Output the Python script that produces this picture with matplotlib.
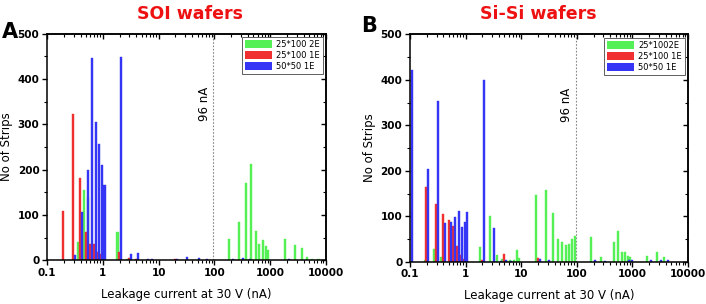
import numpy as np
import matplotlib
matplotlib.use("Agg")
import matplotlib.pyplot as plt
from matplotlib.patches import Patch
from matplotlib.ticker import LogLocator, FixedLocator, NullFormatter

# ---------------- data ----------------
soi_green_x = [0.4, 0.5, 0.6, 2, 3, 200, 300, 400, 500, 600, 700, 800, 900, 1000, 2000, 3000, 4000, 5000, 6000, 8000]
soi_green_n = [40, 155, 140, 62, 4, 47, 84, 170, 213, 65, 36, 45, 32, 23, 47, 33, 28, 7, 3, 3]
soi_red_x = [0.2, 0.3, 0.4, 0.5, 0.6, 0.7, 0.8, 0.9, 1, 2, 3, 4, 20]
soi_red_n = [108, 322, 181, 63, 37, 37, 19, 14, 4, 18, 5, 3, 3]
soi_blue_x = [0.3, 0.4, 0.5, 0.6, 0.7, 0.8, 0.9, 1, 2, 3, 4, 6, 7, 20, 30, 50, 70, 200, 300, 400, 2000]
soi_blue_n = [12, 106, 199, 446, 306, 256, 211, 166, 449, 13, 16, 4, 3, 4, 8, 5, 2, 4, 5, 3, 3]

sisi_green_x = [0.2, 0.3, 0.4, 2, 3, 4, 5, 6, 7, 8, 9, 10, 20, 30, 40, 50, 60, 70, 80, 90, 100,
                200, 300, 500, 600, 700, 800, 900, 1000, 2000, 3000, 4000]
sisi_green_n = [4, 29, 11, 32, 100, 15, 7, 2, 3, 3, 26, 9, 146, 157, 108, 49, 43, 37, 40, 49, 56,
                54, 10, 44, 68, 22, 22, 12, 11, 12, 22, 10]
sisi_red_x = [0.2, 0.3, 0.4, 0.5, 0.6, 0.7, 0.8, 0.9, 1, 2, 5, 20]
sisi_red_n = [164, 126, 104, 92, 78, 35, 15, 5, 2, 3, 18, 8]
sisi_blue_x = [0.1, 0.2, 0.3, 0.4, 0.5, 0.6, 0.7, 0.8, 0.9, 1, 2, 3, 4, 5, 6, 20, 30, 200, 300, 800, 900, 2000, 3000, 4000]
sisi_blue_n = [421, 205, 353, 86, 88, 98, 111, 76, 87, 109, 400, 74, 2, 3, 2, 5, 3, 3, 2, 3, 3, 3, 3, 3]

titles = ["SOI wafers", "Si-Si wafers"]
panel_letters = ["A", "B"]
legend_labels = [["25*100 2E", "25*100 1E", "50*50 1E"],
                 ["25*1002E", "25*100 1E", "50*50 1E"]]
cut_value = 96
cut_label = "96 nA"
x_ticks = [0.1, 1, 10, 100, 1000, 10000]
x_ticklabels = ["0.1", "1", "10", "100", "1000", "10000"]
y_ticks = [0, 100, 200, 300, 400, 500]

# ---------------- style ----------------
GREEN = "#55f055"
RED = "#f03030"
BLUE = "#3535f5"
offsets = [-0.038, -0.006, 0.030]   # decade offsets for green, red, blue
half_w = 0.018                      # half bar width in decades

fig = plt.figure(figsize=(7.06, 3.04), dpi=100)
axA = fig.add_axes([0.0666, 0.1437, 0.3952, 0.7455])
axB = fig.add_axes([0.5807, 0.1390, 0.3938, 0.7480])

panels = [
    (axA, [(soi_green_x, soi_green_n), (soi_red_x, soi_red_n), (soi_blue_x, soi_blue_n)]),
    (axB, [(sisi_green_x, sisi_green_n), (sisi_red_x, sisi_red_n), (sisi_blue_x, sisi_blue_n)]),
]
colors = [GREEN, RED, BLUE]
minor_subs = np.arange(2, 10)

for i, (ax, series) in enumerate(panels):
    for (xs, ns), c, off in zip(series, colors, offsets):
        xs = np.asarray(xs, float)
        left = xs * 10 ** (off - half_w)
        right = xs * 10 ** (off + half_w)
        ax.bar(left, ns, width=right - left, align="edge", color=c, edgecolor=c,
               linewidth=0.3, zorder=2)
    ax.set_xscale("log")
    ax.set_xlim(0.1, 10000)
    ax.set_ylim(0, 500)
    ax.axvline(cut_value, color="#888888", lw=0.8, ls=(0, (1.5, 1.5)), zorder=1)
    ax.text(cut_value / 1.12, 345, cut_label, rotation=90, ha="right", va="center",
            fontsize=8.5)
    ax.set_xticks(x_ticks)
    ax.set_xticklabels(x_ticklabels, fontweight="bold", fontsize=7.5)
    ax.xaxis.set_minor_locator(LogLocator(base=10, subs=minor_subs, numticks=20))
    ax.xaxis.set_minor_formatter(NullFormatter())
    ax.set_yticks(y_ticks)
    ax.set_yticklabels([str(v) for v in y_ticks], fontweight="bold", fontsize=7.5)
    ax.yaxis.set_minor_locator(FixedLocator(np.arange(50, 500, 100)))
    ax.tick_params(axis="both", which="major", direction="out", length=3.5, width=1.0, pad=2)
    ax.tick_params(axis="both", which="minor", direction="out", length=2.2, width=0.8)
    # mirrored top/right ticks pointing inward
    top = ax.secondary_xaxis("top")
    top.set_xticks(x_ticks)
    top.xaxis.set_minor_locator(LogLocator(base=10, subs=minor_subs, numticks=20))
    top.xaxis.set_minor_formatter(NullFormatter())
    top.tick_params(axis="x", which="major", direction="in", length=3.5, width=1.0, labeltop=False)
    top.tick_params(axis="x", which="minor", direction="in", length=2.2, width=0.8)
    rt = ax.secondary_yaxis("right")
    rt.set_yticks(y_ticks)
    rt.yaxis.set_minor_locator(FixedLocator(np.arange(50, 500, 100)))
    rt.tick_params(axis="y", which="major", direction="in", length=3.5, width=1.0, labelright=False)
    rt.tick_params(axis="y", which="minor", direction="in", length=2.2, width=0.8)
    for sp in ax.spines.values():
        sp.set_linewidth(1.1)
    top.spines["top"].set_linewidth(1.1)
    rt.spines["right"].set_linewidth(1.1)
    ax.set_xlabel("Leakage current at 30 V (nA)", fontsize=8.5, labelpad=7)
    ax.set_ylabel("No of Strips", fontsize=8.5, labelpad=3)
    handles = [Patch(facecolor=c, edgecolor="none") for c in colors]
    leg = ax.legend(handles, legend_labels[i], loc="upper right", fontsize=6,
                    handlelength=3.2, handleheight=1.1, handletextpad=0.5,
                    borderpad=0.35, labelspacing=0.25, fancybox=False,
                    framealpha=1, edgecolor="#444444", borderaxespad=0.4)
    leg.get_frame().set_linewidth(0.6)

fig.text(0.2695, 0.955, titles[0], color="#ee1111", fontsize=12.5, ha="center", va="center",
         fontweight="semibold")
fig.text(0.762, 0.955, titles[1], color="#ee1111", fontsize=12.5, ha="center", va="center",
         fontweight="semibold")
fig.text(0.003, 0.895, panel_letters[0], fontsize=15, fontweight="bold", ha="left", va="center")
fig.text(0.512, 0.915, panel_letters[1], fontsize=15, fontweight="bold", ha="left", va="center")

fig.savefig("out.png", dpi=100)
